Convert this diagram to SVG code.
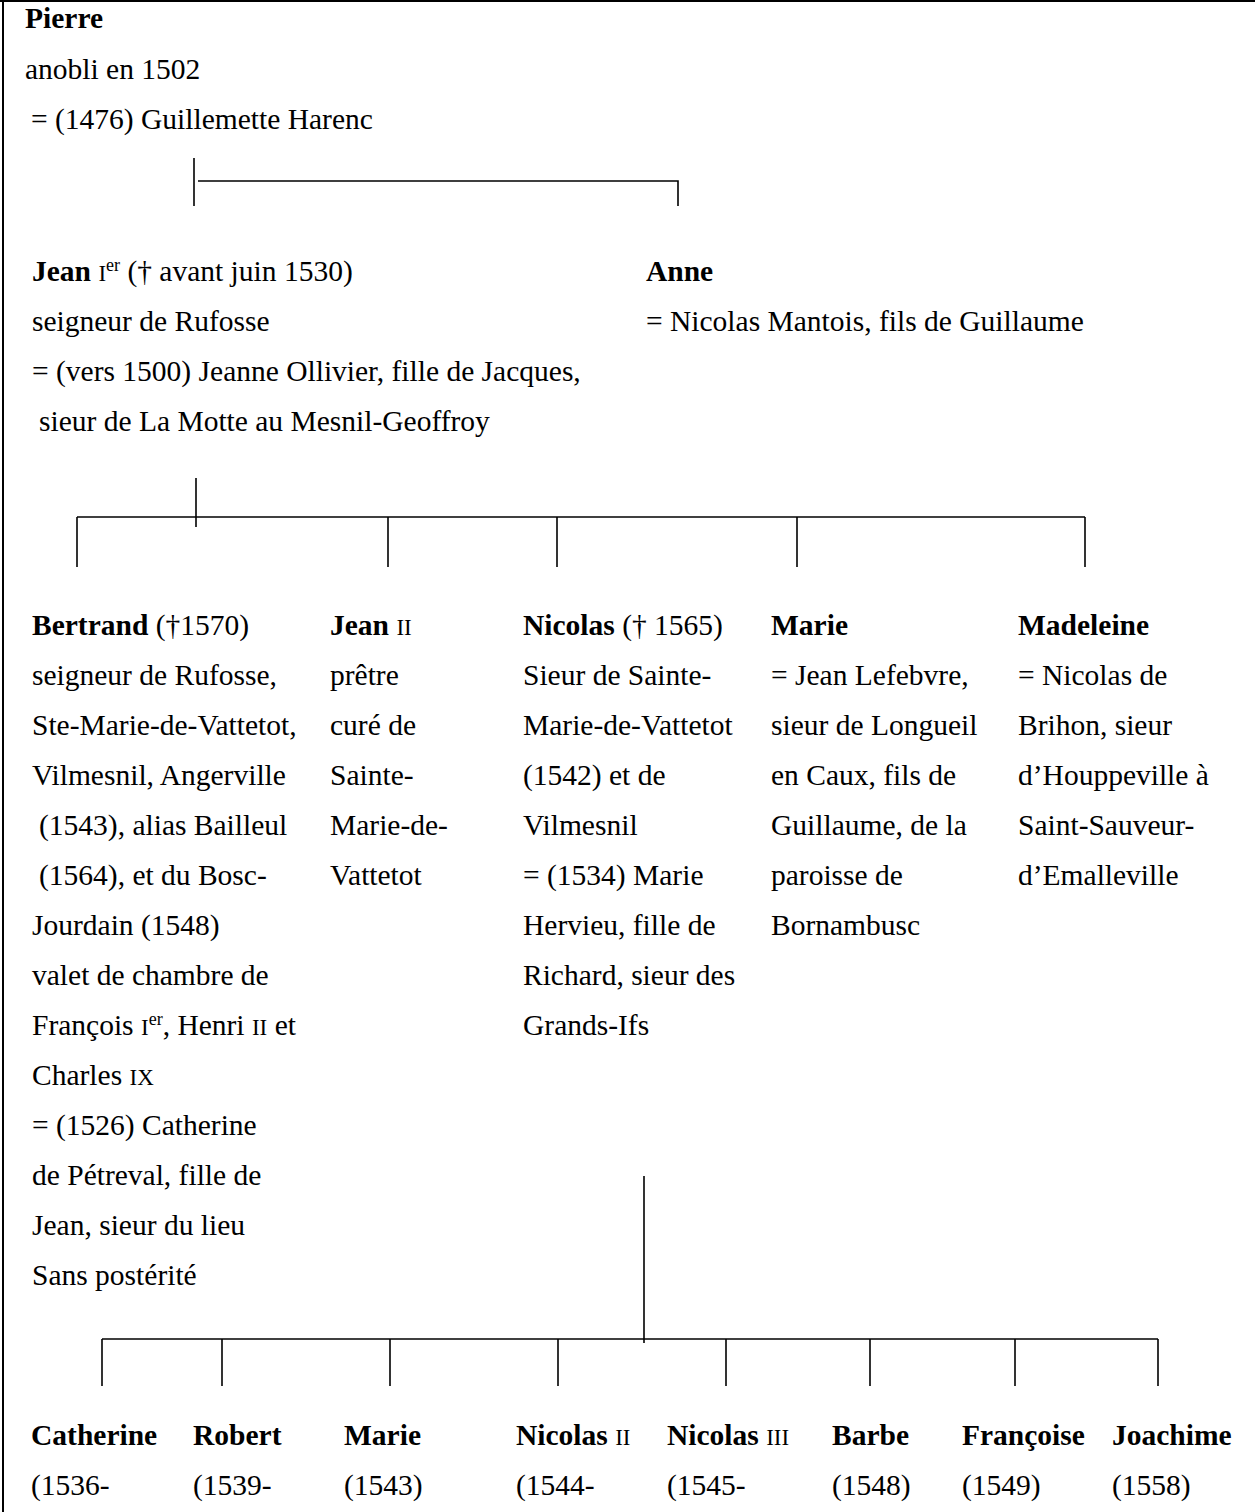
<svg xmlns="http://www.w3.org/2000/svg" width="1255" height="1512" viewBox="0 0 1255 1512">
<style>
text{font-family:"Liberation Serif","Times New Roman",serif;font-size:29.5px;fill:#000}
.b{font-weight:bold}
.sc{font-size:23px}
.sup{font-size:18px}
.c{stroke:#000;stroke-width:1.6;fill:none}
.border{stroke:#000;stroke-width:2;fill:none}
</style>
<rect width="1255" height="1512" fill="#fff"/>
<g id="frame">
<line class="border" x1="0" y1="1" x2="1255" y2="1"/>
<line class="border" x1="3" y1="0" x2="3" y2="1512"/>
</g>
<g id="connectors">
<line class="c" x1="194" y1="158" x2="194" y2="206"/>
<polyline class="c" points="198,181 678,181 678,206"/>
<line class="c" x1="196" y1="478" x2="196" y2="527"/>
<line class="c" x1="77" y1="517" x2="1085" y2="517"/>
<line class="c" x1="77" y1="517" x2="77" y2="567"/>
<line class="c" x1="388" y1="517" x2="388" y2="567"/>
<line class="c" x1="557" y1="517" x2="557" y2="567"/>
<line class="c" x1="797" y1="517" x2="797" y2="567"/>
<line class="c" x1="1085" y1="517" x2="1085" y2="567"/>
<line class="c" x1="644" y1="1176" x2="644" y2="1343"/>
<line class="c" x1="102" y1="1339" x2="1158" y2="1339"/>
<line class="c" x1="102" y1="1339" x2="102" y2="1386"/>
<line class="c" x1="222" y1="1339" x2="222" y2="1386"/>
<line class="c" x1="390" y1="1339" x2="390" y2="1386"/>
<line class="c" x1="558" y1="1339" x2="558" y2="1386"/>
<line class="c" x1="726" y1="1339" x2="726" y2="1386"/>
<line class="c" x1="870" y1="1339" x2="870" y2="1386"/>
<line class="c" x1="1015" y1="1339" x2="1015" y2="1386"/>
<line class="c" x1="1158" y1="1339" x2="1158" y2="1386"/>
</g>
<g id="pierre">
<text x="25" y="28" class="b">Pierre</text>
<text x="25" y="79">anobli en 1502</text>
<text x="31" y="129">= (1476) Guillemette Harenc</text>
</g>
<g id="jean1">
<text x="32" y="281"><tspan class="b">Jean</tspan> <tspan class="sc">I</tspan><tspan class="sup" dy="-10">er</tspan><tspan dy="10"> († avant juin 1530)</tspan></text>
<text x="32" y="331">seigneur de Rufosse</text>
<text x="32" y="381">= (vers 1500) Jeanne Ollivier, fille de Jacques,</text>
<text x="39" y="431">sieur de La Motte au Mesnil-Geoffroy</text>
</g>
<g id="anne">
<text x="646" y="281" class="b">Anne</text>
<text x="646" y="331">= Nicolas Mantois, fils de Guillaume</text>
</g>
<g id="bertrand">
<text x="32" y="635"><tspan class="b">Bertrand</tspan> (†1570)</text>
<text x="32" y="685">seigneur de Rufosse,</text>
<text x="32" y="735">Ste-Marie-de-Vattetot,</text>
<text x="32" y="785">Vilmesnil, Angerville</text>
<text x="39" y="835">(1543), alias Bailleul</text>
<text x="39" y="885">(1564), et du Bosc-</text>
<text x="32" y="935">Jourdain (1548)</text>
<text x="32" y="985">valet de chambre de</text>
<text x="32" y="1035">François <tspan class="sc">I</tspan><tspan class="sup" dy="-10">er</tspan><tspan dy="10">, Henri </tspan><tspan class="sc">II</tspan> et</text>
<text x="32" y="1085">Charles <tspan class="sc">IX</tspan></text>
<text x="32" y="1135">= (1526) Catherine</text>
<text x="32" y="1185">de Pétreval, fille de</text>
<text x="32" y="1235">Jean, sieur du lieu</text>
<text x="32" y="1285">Sans postérité</text>
</g>
<g id="jean2">
<text x="330" y="635"><tspan class="b">Jean</tspan> <tspan class="sc">II</tspan></text>
<text x="330" y="685">prêtre</text>
<text x="330" y="735">curé de</text>
<text x="330" y="785">Sainte-</text>
<text x="330" y="835">Marie-de-</text>
<text x="330" y="885">Vattetot</text>
</g>
<g id="nicolas">
<text x="523" y="635"><tspan class="b">Nicolas</tspan> († 1565)</text>
<text x="523" y="685">Sieur de Sainte-</text>
<text x="523" y="735">Marie-de-Vattetot</text>
<text x="523" y="785">(1542) et de</text>
<text x="523" y="835">Vilmesnil</text>
<text x="523" y="885">= (1534) Marie</text>
<text x="523" y="935">Hervieu, fille de</text>
<text x="523" y="985">Richard, sieur des</text>
<text x="523" y="1035">Grands-Ifs</text>
</g>
<g id="marie">
<text x="771" y="635" class="b">Marie</text>
<text x="771" y="685">= Jean Lefebvre,</text>
<text x="771" y="735">sieur de Longueil</text>
<text x="771" y="785">en Caux, fils de</text>
<text x="771" y="835">Guillaume, de la</text>
<text x="771" y="885">paroisse de</text>
<text x="771" y="935">Bornambusc</text>
</g>
<g id="madeleine">
<text x="1018" y="635" class="b">Madeleine</text>
<text x="1018" y="685">= Nicolas de</text>
<text x="1018" y="735">Brihon, sieur</text>
<text x="1018" y="785">d’Houppeville à</text>
<text x="1018" y="835">Saint-Sauveur-</text>
<text x="1018" y="885">d’Emalleville</text>
</g>
<g id="catherine">
<text x="31" y="1445" class="b">Catherine</text>
<text x="31" y="1495">(1536-</text>
</g>
<g id="robert">
<text x="193" y="1445" class="b">Robert</text>
<text x="193" y="1495">(1539-</text>
</g>
<g id="marie2">
<text x="344" y="1445" class="b">Marie</text>
<text x="344" y="1495">(1543)</text>
</g>
<g id="nicolas2">
<text x="516" y="1445"><tspan class="b">Nicolas</tspan> <tspan class="sc">II</tspan></text>
<text x="516" y="1495">(1544-</text>
</g>
<g id="nicolas3">
<text x="667" y="1445"><tspan class="b">Nicolas</tspan> <tspan class="sc">III</tspan></text>
<text x="667" y="1495">(1545-</text>
</g>
<g id="barbe">
<text x="832" y="1445" class="b">Barbe</text>
<text x="832" y="1495">(1548)</text>
</g>
<g id="francoise">
<text x="962" y="1445" class="b">Françoise</text>
<text x="962" y="1495">(1549)</text>
</g>
<g id="joachime">
<text x="1112" y="1445" class="b">Joachime</text>
<text x="1112" y="1495">(1558)</text>
</g>
</svg>
